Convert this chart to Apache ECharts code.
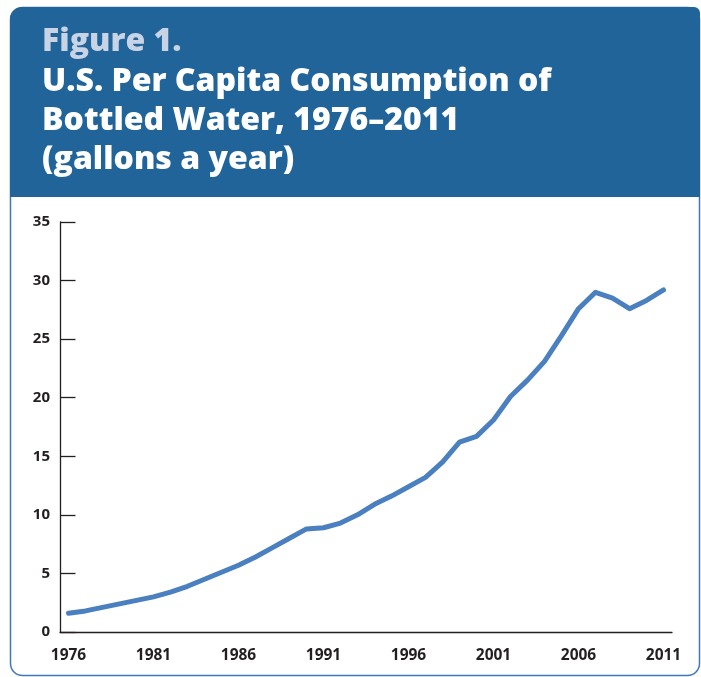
<!DOCTYPE html>
<html>
<head>
<meta charset="utf-8">
<script src="https://cdn.jsdelivr.net/npm/echarts@6/dist/echarts.min.js"></script>
<style>
html,body{margin:0;padding:0;background:#fff;}
#c{width:701px;height:677px;}
</style>
</head>
<body>
<div id="c"></div>
<script>
var years = ['1976','1977','1978','1979','1980','1981','1982','1983','1984','1985','1986','1987',
  '1988','1989','1990','1991','1992','1993','1994','1995','1996','1997','1998','1999',
  '2000','2001','2002','2003','2004','2005','2006','2007','2008','2009','2010','2011'];
var gallons = [1.6,1.8,2.1,2.4,2.7,3.0,3.4,3.9,4.5,5.1,5.7,6.4,
  7.2,8.0,8.8,8.9,9.3,10.0,10.9,11.6,12.4,13.2,14.5,16.2,
  16.7,18.1,20.1,21.5,23.1,25.3,27.6,29.0,28.5,27.6,28.3,29.2];
var titleLines = ['Figure 1.','U.S. Per Capita Consumption of','Bottled Water, 1976\u20132011','(gallons a year)'];

var chart = echarts.init(document.getElementById('c'));
var titleFont = '800 32px "Open Sans"';
var centers = [42, 81.5, 121, 160];
var graphics = [
  {type:'rect', z:-10, shape:{x:10.5,y:7.5,width:689,height:668,r:12}, style:{fill:'#fff',stroke:'#3f78b4',lineWidth:1.5}},
  {type:'rect', z:-9, shape:{x:10,y:7,width:690,height:190,r:[12,6,0,0]}, style:{fill:'#21649a'}}
];
titleLines.forEach(function(t,i){
  graphics.push({type:'text', z:10, style:{text:t, x:42, y:centers[i], font:titleFont,
    fill: i===0 ? '#c8d3e6' : '#ffffff', verticalAlign:'middle'}});
});

chart.setOption({
  animation:false,
  graphic: graphics,
  grid:{left:60, right:29, top:222, bottom:45, containLabel:false},
  xAxis:{
    type:'category', data:years, boundaryGap:true,
    axisLine:{lineStyle:{color:'#231f20',width:1.3}},
    axisTick:{inside:true,length:9,interval:0,lineStyle:{color:'#231f20',width:1.3}},
    axisLabel:{interval:4, margin:16, color:'#231f20', fontFamily:'Open Sans', fontWeight:'bold', fontSize:15.5},
    splitLine:{show:false}
  },
  yAxis:{
    type:'value', min:0, max:35, interval:5,
    axisLine:{show:true, lineStyle:{color:'#231f20',width:1.3}},
    axisTick:{show:true, inside:true, length:15.5, lineStyle:{color:'#231f20',width:1.3}},
    axisLabel:{margin:10, color:'#231f20', fontFamily:'Open Sans', fontWeight:'bold', fontSize:15, verticalAlign:'middle', padding:[0,0,10,0]},
    splitLine:{show:false}
  },
  series:[{
    type:'line', data:gallons, symbol:'none', smooth:false,
    lineStyle:{color:'#4a7fc0', width:5, cap:'round', join:'round'}
  }]
});
</script>
</body>
</html>
